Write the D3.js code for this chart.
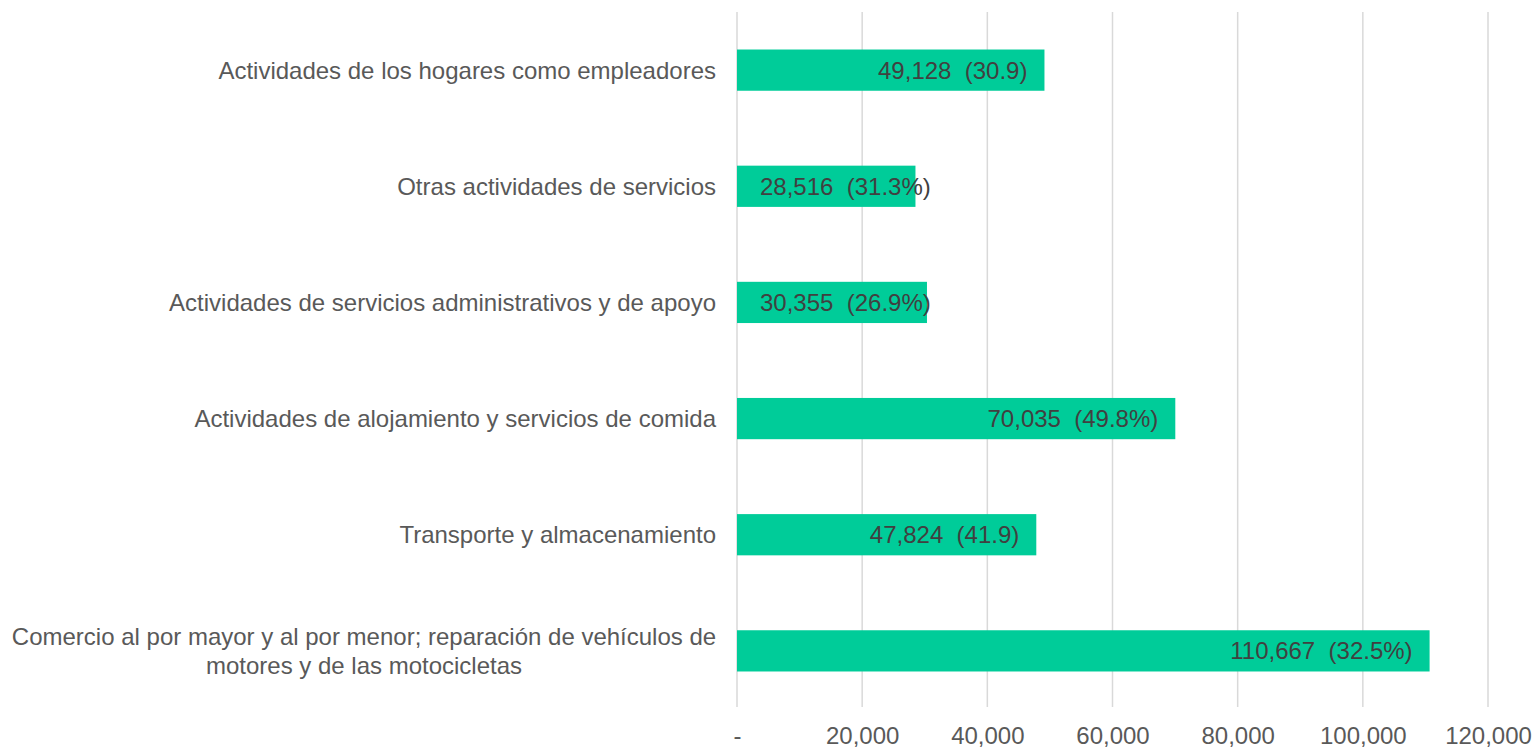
<!DOCTYPE html>
<html>
<head>
<meta charset="utf-8">
<script src="https://cdn.jsdelivr.net/npm/d3@7"></script>
<style>
  body { margin: 0; background: #fff; }
  text { font-family: "Liberation Sans", Arial, sans-serif; }
</style>
</head>
<body>
<div id="main"></div>
<script>
// data, bottom to top as in the picture
const categories = [
  ["Comercio al por mayor y al por menor; reparación de vehículos de", "motores y de las motocicletas"],
  ["Transporte y almacenamiento"],
  ["Actividades de alojamiento y servicios de comida"],
  ["Actividades de servicios administrativos y de apoyo"],
  ["Otras actividades de servicios"],
  ["Actividades de los hogares como empleadores"]
];
const values = [110667, 47824, 70035, 30355, 28516, 49128];
const shares = ["(32.5%)", "(41.9)", "(49.8%)", "(26.9%)", "(31.3%)", "(30.9)"];
const xTicks = [0, 20000, 40000, 60000, 80000, 100000, 120000];

const w = 1534, h = 750;
const left = 737, right = 1488;
const fs = "24px";

const svg = d3.select("#main").append("svg")
  .attr("width", w).attr("height", h);

const xScale = d3.scaleLinear().domain([0, 120000]).range([left, right]);

// top category first on screen
const order = d3.range(categories.length).reverse();
const yScale = d3.scaleBand()
  .domain(order)
  .range([12, 709])
  .paddingInner(0.645)
  .paddingOuter(0.323);

// gridlines
svg.append("g").selectAll("line")
  .data(xTicks)
  .enter().append("line")
  .attr("x1", d => xScale(d)).attr("x2", d => xScale(d))
  .attr("y1", 12).attr("y2", 707)
  .attr("stroke", "#d9d9d9").attr("stroke-width", 1.5);

// x axis labels
const xAxis = d3.axisBottom(xScale).tickValues(xTicks)
  .tickSize(0).tickPadding(0)
  .tickFormat(d => d === 0 ? "-" : d3.format(",")(d));

const gx = svg.append("g")
  .attr("transform", "translate(0,727)")
  .call(xAxis);
gx.select(".domain").remove();
gx.selectAll("text")
  .attr("fill", "#595959")
  .style("font-size", fs)
  .style("font-family", "'Liberation Sans', Arial, sans-serif");

// bars
svg.selectAll("rect.bar")
  .data(values)
  .enter().append("rect")
  .attr("class", "bar")
  .attr("x", xScale(0))
  .attr("y", (d, i) => yScale(i))
  .attr("width", d => xScale(d) - xScale(0))
  .attr("height", yScale.bandwidth())
  .attr("fill", "#00cc99");

// value labels
const lbl = svg.selectAll("text.val")
  .data(values)
  .enter().append("text")
  .attr("class", "val")
  .attr("y", (d, i) => yScale(i) + yScale.bandwidth() / 2)
  .attr("dy", "0.35em")
  .attr("fill", "#404040")
  .style("font-size", fs)
  .style("white-space", "pre")
  .text((d, i) => d3.format(",")(d) + "  " + shares[i]);

lbl.each(function(d) {
  const tw = this.getComputedTextLength();
  let x = xScale(d) - 17 - tw;
  if (x < xScale(0) + 23) x = xScale(0) + 23;
  d3.select(this).attr("x", x);
});

// category labels
const cat = svg.selectAll("text.cat")
  .data(categories)
  .enter().append("text")
  .attr("class", "cat")
  .attr("fill", "#595959")
  .style("font-size", fs);

cat.each(function(lines, i) {
  const t = d3.select(this);
  const cy = yScale(i) + yScale.bandwidth() / 2;
  if (lines.length === 1) {
    t.attr("text-anchor", "end").attr("x", 716).attr("y", cy).attr("dy", "0.35em").text(lines[0]);
  } else {
    t.attr("text-anchor", "middle");
    lines.forEach((ln, k) => {
      t.append("tspan")
        .attr("x", 364)
        .attr("y", cy + (k - 0.5) * 29)
        .attr("dy", "0.35em")
        .text(ln);
    });
  }
});
</script>
</body>
</html>
